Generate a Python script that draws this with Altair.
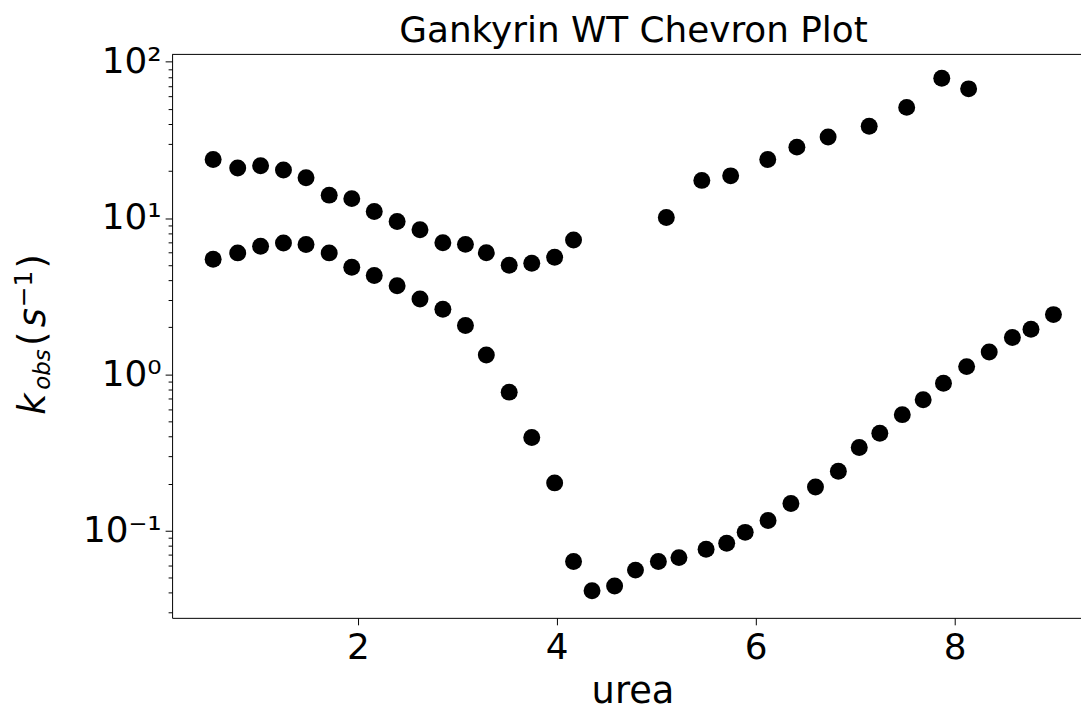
import altair as alt
import pandas as pd

# Upper (unfolding-limb) branch, low urea
up_left_x = [0.545, 0.792, 1.022, 1.252, 1.479, 1.712, 1.939, 2.165, 2.395, 2.625, 2.855, 3.082, 3.292, 3.522, 3.749, 3.979, 4.169]
up_left_y = [23.7, 20.9, 21.6, 20.3, 18.1, 14.0, 13.3, 11.0, 9.5, 8.4, 6.95, 6.78, 6.0, 4.99, 5.14, 5.61, 7.23]

# Upper branch, high urea
up_right_x = [5.102, 5.459, 5.749, 6.122, 6.415, 6.729, 7.142, 7.519, 7.872, 8.142]
up_right_y = [10.07, 17.4, 18.6, 23.7, 28.4, 33.0, 38.6, 51.0, 78.3, 67.0]

# Lower (chevron) branch
low_x = [0.545, 0.792, 1.022, 1.252, 1.479, 1.712, 1.939, 2.165, 2.395, 2.625, 2.855, 3.082, 3.292,
         3.522, 3.749, 3.979, 4.169, 4.355, 4.582, 4.792, 5.022, 5.229, 5.502, 5.709, 5.895, 6.125,
         6.355, 6.602, 6.832, 7.042, 7.249, 7.475, 7.685, 7.889, 8.122, 8.349, 8.582, 8.769, 8.995]
low_y = [5.45, 5.98, 6.59, 6.92, 6.76, 5.98, 4.84, 4.29, 3.69, 3.03, 2.61, 2.05, 1.33,
         0.769, 0.394, 0.202, 0.0634, 0.0413, 0.0442, 0.0559, 0.0634, 0.0672, 0.0760, 0.0830, 0.0975, 0.116,
         0.149, 0.190, 0.240, 0.340, 0.420, 0.552, 0.687, 0.877, 1.12, 1.39, 1.72, 1.94, 2.41]

x_ticks = [2, 4, 6, 8]
y_ticks = [m * d for d in (0.01, 0.1, 1, 10) for m in range(1, 10)] + [100]
y_ticks = [v for v in y_ticks if v >= 0.03]

title_text = "Gankyrin WT Chevron Plot"
x_title = "urea"

x_dom = [0.132, 9.272]
y_dom = [0.02767, 111.3]

W, H = 914, 566.6
OX, OY = 173, 52.7  # page position of the plot origin
FONT = "DejaVu Sans"

df = pd.DataFrame({
    "urea": up_left_x + up_right_x + low_x,
    "kobs": up_left_y + up_right_y + low_y,
})

decade = "abs(log(datum.value)/LN10 - round(log(datum.value)/LN10)) < 0.001"
label_expr = (
    f"({decade}) ? ("
    "round(log(datum.value)/LN10) == -1 ? '10⁻¹' : "
    "round(log(datum.value)/LN10) == 0 ? '10⁰' : "
    "round(log(datum.value)/LN10) == 1 ? '10¹' : '10²') : ''"
)

points = alt.Chart(df).mark_circle(size=290, color="black", opacity=1).encode(
    x=alt.X("urea:Q", scale=alt.Scale(domain=x_dom, nice=False, zero=False),
            axis=alt.Axis(values=x_ticks, title=x_title, grid=False, labelFontSize=36,
                          titleFontSize=37, titleFontWeight="normal", tickSize=7,
                          labelPadding=6, titleX=463, titleY=85, titleBaseline="alphabetic",
                          titleAnchor="start", titleAlign="center")),
    y=alt.Y("kobs:Q", scale=alt.Scale(type="log", domain=y_dom, nice=False),
            axis=alt.Axis(values=y_ticks, title=None, grid=False, labelFontSize=36,
                          labelExpr=label_expr, labelPadding=4,
                          tickSize={"condition": {"test": decade, "value": 7}, "value": 4})),
)

one = alt.Data(values=[{"a": 1}])

top_spine = alt.Chart(one).mark_rule(color="black", strokeWidth=1).encode(
    x=alt.value(0), x2=alt.value(W), y=alt.value(0)
)

title = alt.Chart(one).mark_text(
    text=title_text, font=FONT, fontSize=36, align="center", baseline="alphabetic", color="black"
).encode(x=alt.value(637 - OX), y=alt.value(40 - OY))


def piece(txt, px, py, size, italic):
    kw = dict(text=txt, angle=270, align="left", baseline="alphabetic",
              font=FONT, fontSize=size, color="black")
    if italic:
        kw["fontStyle"] = "italic"
    return alt.Chart(one).mark_text(**kw).encode(
        x=alt.value(px - OX), y=alt.value(py - OY)
    )


ytitle = [
    piece("k", 45, 415, 37, True),
    piece("obs", 50, 390, 23, True),
    piece("(", 45, 346, 37, False),
    piece("s", 45, 327, 37, True),
    piece("\u22121", 32, 307, 25, False),
    piece(")", 45, 268, 37, False),
]

chart = alt.layer(points, top_spine, title, *ytitle).properties(
    width=W, height=H,
    padding={"left": OX - 8, "top": OY - 8, "right": 0, "bottom": 92},
    autosize="none",
).configure_view(stroke=None).configure_axis(
    domainColor="black", tickColor="black", labelColor="black", titleColor="black",
    labelFont=FONT, titleFont=FONT, domainWidth=1, tickWidth=1
)

chart.save("out.html", embed_options={"renderer": "svg", "actions": False})
